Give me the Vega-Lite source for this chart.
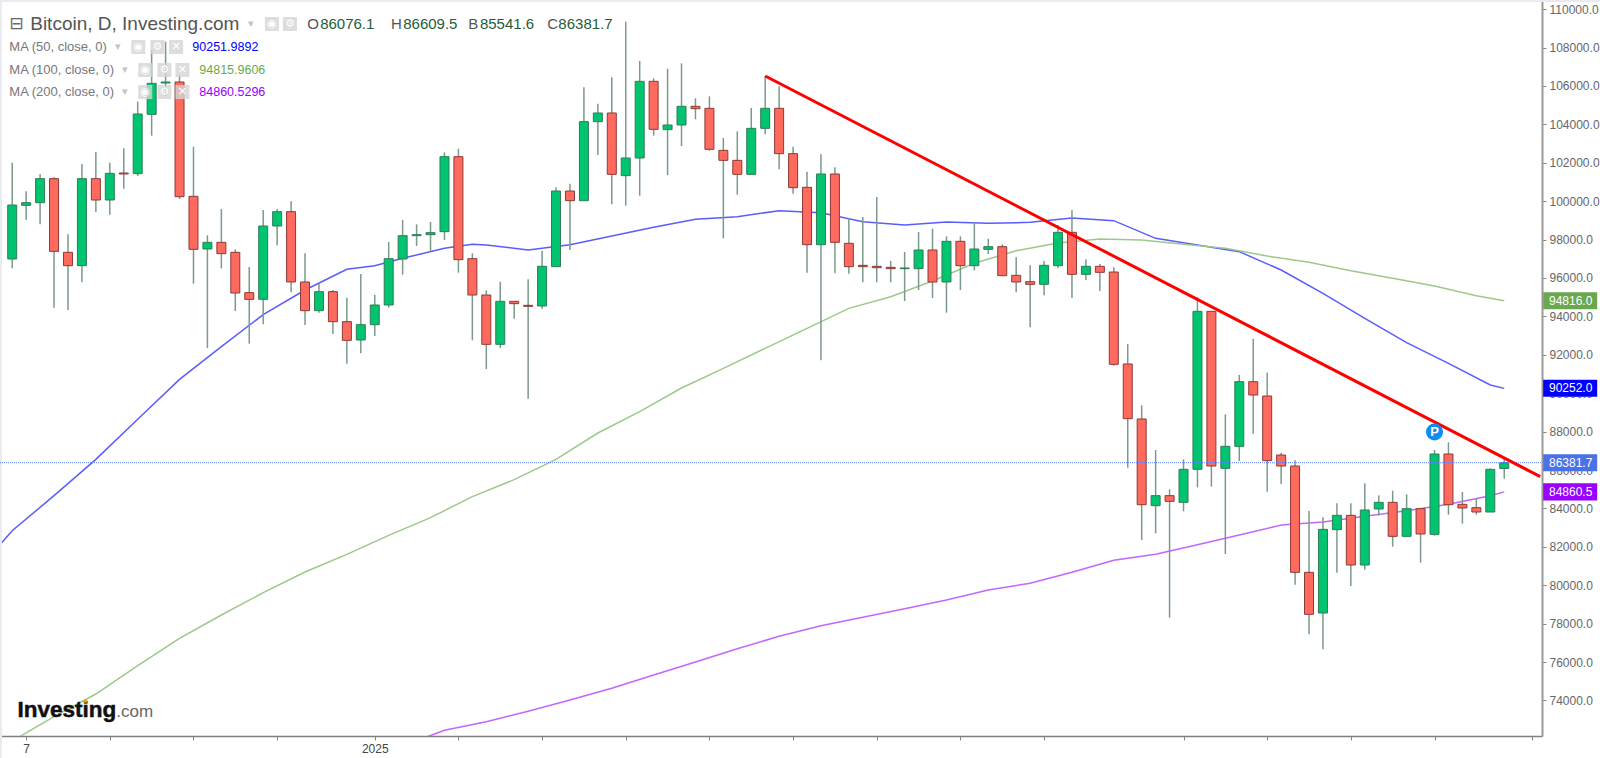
{
  "$schema": "https://vega.github.io/schema/vega-lite/v6.json",
  "width": 1542,
  "height": 736,
  "autosize": "none",
  "padding": {"left": 0, "top": 0, "right": 58, "bottom": 22},
  "background": "white",
  "config": {"view": {"stroke": null}},
  "datasets": {
    "candles": [
      {"date":"2024-12-06","open":96990,"high":102007,"low":96503,"close":99802},
      {"date":"2024-12-07","open":99785,"high":100514,"low":99021,"close":99924},
      {"date":"2024-12-08","open":99924,"high":101417,"low":98795,"close":101174},
      {"date":"2024-12-09","open":101174,"high":101243,"low":94455,"close":97389},
      {"date":"2024-12-10","open":97337,"high":98274,"low":94333,"close":96642},
      {"date":"2024-12-11","open":96642,"high":101937,"low":95774,"close":101174},
      {"date":"2024-12-12","open":101174,"high":102562,"low":99437,"close":100062},
      {"date":"2024-12-13","open":100062,"high":102007,"low":99299,"close":101451},
      {"date":"2024-12-14","open":101469,"high":102753,"low":100653,"close":101417},
      {"date":"2024-12-15","open":101434,"high":105184,"low":101312,"close":104542},
      {"date":"2024-12-16","open":104524,"high":107875,"low":103413,"close":106139},
      {"date":"2024-12-17","open":106156,"high":108309,"low":105479,"close":106208},
      {"date":"2024-12-18","open":106208,"high":106573,"low":100114,"close":100236},
      {"date":"2024-12-19","open":100253,"high":102840,"low":95705,"close":97493},
      {"date":"2024-12-20","open":97510,"high":98222,"low":92354,"close":97858},
      {"date":"2024-12-21","open":97858,"high":99594,"low":96503,"close":97267},
      {"date":"2024-12-22","open":97337,"high":97493,"low":94281,"close":95219},
      {"date":"2024-12-23","open":95236,"high":96573,"low":92580,"close":94889},
      {"date":"2024-12-24","open":94889,"high":99542,"low":93587,"close":98708},
      {"date":"2024-12-25","open":98708,"high":99594,"low":97701,"close":99455},
      {"date":"2024-12-26","open":99455,"high":99993,"low":95253,"close":95792},
      {"date":"2024-12-27","open":95792,"high":97285,"low":93552,"close":94299},
      {"date":"2024-12-28","open":94299,"high":95722,"low":94194,"close":95288},
      {"date":"2024-12-29","open":95288,"high":95375,"low":93083,"close":93726},
      {"date":"2024-12-30","open":93726,"high":94976,"low":91538,"close":92753},
      {"date":"2024-12-31","open":92771,"high":96208,"low":92076,"close":93569},
      {"date":"2025-01-01","open":93569,"high":95132,"low":92979,"close":94594},
      {"date":"2025-01-02","open":94594,"high":97875,"low":94455,"close":97007},
      {"date":"2025-01-03","open":96990,"high":99021,"low":96174,"close":98205},
      {"date":"2025-01-04","open":98205,"high":98795,"low":97667,"close":98257},
      {"date":"2025-01-05","open":98257,"high":98917,"low":97371,"close":98361},
      {"date":"2025-01-06","open":98413,"high":102545,"low":97979,"close":102319},
      {"date":"2025-01-07","open":102319,"high":102736,"low":96278,"close":96955},
      {"date":"2025-01-08","open":97007,"high":97285,"low":92753,"close":95114},
      {"date":"2025-01-09","open":95114,"high":95358,"low":91260,"close":92545},
      {"date":"2025-01-10","open":92545,"high":95809,"low":92354,"close":94785},
      {"date":"2025-01-11","open":94785,"high":94785,"low":93882,"close":94663},
      {"date":"2025-01-12","open":94576,"high":95930,"low":89715,"close":94524},
      {"date":"2025-01-13","open":94542,"high":97424,"low":94403,"close":96608},
      {"date":"2025-01-14","open":96590,"high":100722,"low":96590,"close":100531},
      {"date":"2025-01-15","open":100531,"high":100913,"low":97458,"close":100028},
      {"date":"2025-01-16","open":100028,"high":105930,"low":100028,"close":104142},
      {"date":"2025-01-17","open":104142,"high":105080,"low":102406,"close":104594},
      {"date":"2025-01-18","open":104594,"high":106451,"low":99837,"close":101399},
      {"date":"2025-01-19","open":101330,"high":109351,"low":99767,"close":102250},
      {"date":"2025-01-20","open":102250,"high":107302,"low":100288,"close":106243},
      {"date":"2025-01-21","open":106243,"high":106399,"low":103413,"close":103743},
      {"date":"2025-01-22","open":103726,"high":106903,"low":101364,"close":103969},
      {"date":"2025-01-23","open":103969,"high":107180,"low":102875,"close":104941},
      {"date":"2025-01-24","open":104941,"high":105358,"low":104264,"close":104819},
      {"date":"2025-01-25","open":104837,"high":105462,"low":102632,"close":102701},
      {"date":"2025-01-26","open":102649,"high":103292,"low":98066,"close":102128},
      {"date":"2025-01-27","open":102128,"high":103639,"low":100340,"close":101399},
      {"date":"2025-01-28","open":101399,"high":104854,"low":101399,"close":103795},
      {"date":"2025-01-29","open":103795,"high":106521,"low":103483,"close":104837},
      {"date":"2025-01-30","open":104837,"high":105983,"low":101660,"close":102476},
      {"date":"2025-01-31","open":102476,"high":102840,"low":100392,"close":100705},
      {"date":"2025-02-01","open":100722,"high":101538,"low":96278,"close":97736},
      {"date":"2025-02-02","open":97736,"high":102441,"low":91712,"close":101417},
      {"date":"2025-02-03","open":101417,"high":101764,"low":96243,"close":97858},
      {"date":"2025-02-04","open":97805,"high":99108,"low":96226,"close":96590},
      {"date":"2025-02-05","open":96660,"high":99177,"low":95774,"close":96590},
      {"date":"2025-02-06","open":96608,"high":100219,"low":95774,"close":96538},
      {"date":"2025-02-07","open":96555,"high":96885,"low":95774,"close":96486},
      {"date":"2025-02-08","open":96486,"high":97354,"low":94802,"close":96521},
      {"date":"2025-02-09","open":96486,"high":98396,"low":95375,"close":97458},
      {"date":"2025-02-10","open":97458,"high":98569,"low":94958,"close":95792},
      {"date":"2025-02-11","open":95792,"high":98170,"low":94194,"close":97910},
      {"date":"2025-02-12","open":97910,"high":98170,"low":95375,"close":96642},
      {"date":"2025-02-13","open":96642,"high":98917,"low":96399,"close":97510},
      {"date":"2025-02-14","open":97493,"high":98049,"low":97250,"close":97632},
      {"date":"2025-02-15","open":97632,"high":97753,"low":96121,"close":96121},
      {"date":"2025-02-16","open":96139,"high":97076,"low":95253,"close":95792},
      {"date":"2025-02-17","open":95809,"high":96660,"low":93430,"close":95670},
      {"date":"2025-02-18","open":95670,"high":96885,"low":95097,"close":96660},
      {"date":"2025-02-19","open":96642,"high":98760,"low":96503,"close":98378},
      {"date":"2025-02-20","open":98378,"high":99542,"low":94958,"close":96191},
      {"date":"2025-02-21","open":96191,"high":96972,"low":95896,"close":96608},
      {"date":"2025-02-22","open":96608,"high":96729,"low":95323,"close":96295},
      {"date":"2025-02-23","open":96312,"high":96555,"low":91434,"close":91503},
      {"date":"2025-02-24","open":91521,"high":92562,"low":86121,"close":88674},
      {"date":"2025-02-25","open":88656,"high":89368,"low":82354,"close":84194},
      {"date":"2025-02-26","open":84142,"high":87042,"low":82701,"close":84663},
      {"date":"2025-02-27","open":84663,"high":84993,"low":78309,"close":84368},
      {"date":"2025-02-28","open":84316,"high":86556,"low":83847,"close":86035},
      {"date":"2025-03-01","open":86035,"high":94993,"low":85097,"close":94264},
      {"date":"2025-03-02","open":94264,"high":94264,"low":85132,"close":86208},
      {"date":"2025-03-03","open":86087,"high":88899,"low":81625,"close":87233},
      {"date":"2025-03-04","open":87233,"high":90948,"low":86469,"close":90601},
      {"date":"2025-03-05","open":90601,"high":92840,"low":87892,"close":89906},
      {"date":"2025-03-06","open":89854,"high":91069,"low":84872,"close":86486},
      {"date":"2025-03-07","open":86781,"high":86903,"low":85271,"close":86208},
      {"date":"2025-03-08","open":86208,"high":86503,"low":80028,"close":80670},
      {"date":"2025-03-09","open":80670,"high":83865,"low":77441,"close":78483},
      {"date":"2025-03-10","open":78552,"high":83535,"low":76660,"close":82910},
      {"date":"2025-03-11","open":82892,"high":84264,"low":80653,"close":83639},
      {"date":"2025-03-12","open":83639,"high":84264,"low":79958,"close":81052},
      {"date":"2025-03-13","open":81052,"high":85306,"low":80809,"close":83917},
      {"date":"2025-03-14","open":83969,"high":84681,"low":83621,"close":84316},
      {"date":"2025-03-15","open":84316,"high":84924,"low":82007,"close":82545},
      {"date":"2025-03-16","open":82545,"high":84733,"low":82545,"close":83986},
      {"date":"2025-03-17","open":83986,"high":83986,"low":81174,"close":82667},
      {"date":"2025-03-18","open":82649,"high":87042,"low":82580,"close":86833},
      {"date":"2025-03-19","open":86833,"high":87441,"low":83674,"close":84194},
      {"date":"2025-03-20","open":84212,"high":84854,"low":83205,"close":84021},
      {"date":"2025-03-21","open":84038,"high":84524,"low":83674,"close":83812},
      {"date":"2025-03-22","open":83812,"high":86087,"low":83812,"close":86035},
      {"date":"2025-03-23","open":86076.1,"high":86609.5,"low":85541.6,"close":86381.7}
    ],
    "ma": [
      {"date":"2024-12-05","series":"MA50","price":82007},
      {"date":"2024-12-06","series":"MA50","price":82840},
      {"date":"2024-12-09","series":"MA50","price":84663},
      {"date":"2024-12-12","series":"MA50","price":86556},
      {"date":"2024-12-15","series":"MA50","price":88639},
      {"date":"2024-12-18","series":"MA50","price":90722},
      {"date":"2024-12-21","series":"MA50","price":92424},
      {"date":"2024-12-24","series":"MA50","price":94090},
      {"date":"2024-12-27","series":"MA50","price":95375},
      {"date":"2024-12-30","series":"MA50","price":96451},
      {"date":"2025-01-01","series":"MA50","price":96642},
      {"date":"2025-01-03","series":"MA50","price":97024},
      {"date":"2025-01-06","series":"MA50","price":97545},
      {"date":"2025-01-08","series":"MA50","price":97753},
      {"date":"2025-01-09","series":"MA50","price":97719},
      {"date":"2025-01-12","series":"MA50","price":97458},
      {"date":"2025-01-15","series":"MA50","price":97736},
      {"date":"2025-01-18","series":"MA50","price":98187},
      {"date":"2025-01-21","series":"MA50","price":98639},
      {"date":"2025-01-24","series":"MA50","price":99055},
      {"date":"2025-01-27","series":"MA50","price":99194},
      {"date":"2025-01-30","series":"MA50","price":99507},
      {"date":"2025-02-02","series":"MA50","price":99403},
      {"date":"2025-02-05","series":"MA50","price":98934},
      {"date":"2025-02-08","series":"MA50","price":98760},
      {"date":"2025-02-11","series":"MA50","price":98917},
      {"date":"2025-02-14","series":"MA50","price":98847},
      {"date":"2025-02-17","series":"MA50","price":98899},
      {"date":"2025-02-20","series":"MA50","price":99125},
      {"date":"2025-02-23","series":"MA50","price":98986},
      {"date":"2025-02-26","series":"MA50","price":98066},
      {"date":"2025-03-01","series":"MA50","price":97719},
      {"date":"2025-03-04","series":"MA50","price":97371},
      {"date":"2025-03-07","series":"MA50","price":96417},
      {"date":"2025-03-10","series":"MA50","price":95201},
      {"date":"2025-03-13","series":"MA50","price":93899},
      {"date":"2025-03-16","series":"MA50","price":92632},
      {"date":"2025-03-19","series":"MA50","price":91556},
      {"date":"2025-03-22","series":"MA50","price":90427},
      {"date":"2025-03-23","series":"MA50","price":90252},
      {"date":"2024-12-06","series":"MA100","price":71885},
      {"date":"2024-12-09","series":"MA100","price":73153},
      {"date":"2024-12-12","series":"MA100","price":74333},
      {"date":"2024-12-15","series":"MA100","price":75809},
      {"date":"2024-12-18","series":"MA100","price":77233},
      {"date":"2024-12-21","series":"MA100","price":78448},
      {"date":"2024-12-24","series":"MA100","price":79611},
      {"date":"2024-12-27","series":"MA100","price":80688},
      {"date":"2024-12-30","series":"MA100","price":81608},
      {"date":"2025-01-02","series":"MA100","price":82597},
      {"date":"2025-01-05","series":"MA100","price":83517},
      {"date":"2025-01-08","series":"MA100","price":84611},
      {"date":"2025-01-11","series":"MA100","price":85496},
      {"date":"2025-01-14","series":"MA100","price":86556},
      {"date":"2025-01-17","series":"MA100","price":87927},
      {"date":"2025-01-20","series":"MA100","price":89038},
      {"date":"2025-01-23","series":"MA100","price":90271},
      {"date":"2025-01-26","series":"MA100","price":91295},
      {"date":"2025-01-29","series":"MA100","price":92337},
      {"date":"2025-02-01","series":"MA100","price":93378},
      {"date":"2025-02-04","series":"MA100","price":94420},
      {"date":"2025-02-07","series":"MA100","price":95028},
      {"date":"2025-02-10","series":"MA100","price":95844},
      {"date":"2025-02-13","series":"MA100","price":96764},
      {"date":"2025-02-16","series":"MA100","price":97424},
      {"date":"2025-02-19","series":"MA100","price":97823},
      {"date":"2025-02-22","series":"MA100","price":98031},
      {"date":"2025-02-25","series":"MA100","price":97979},
      {"date":"2025-02-28","series":"MA100","price":97753},
      {"date":"2025-03-03","series":"MA100","price":97545},
      {"date":"2025-03-06","series":"MA100","price":97146},
      {"date":"2025-03-09","series":"MA100","price":96816},
      {"date":"2025-03-12","series":"MA100","price":96382},
      {"date":"2025-03-15","series":"MA100","price":95983},
      {"date":"2025-03-18","series":"MA100","price":95583},
      {"date":"2025-03-21","series":"MA100","price":95080},
      {"date":"2025-03-23","series":"MA100","price":94816},
      {"date":"2025-01-04","series":"MA200","price":71903},
      {"date":"2025-01-06","series":"MA200","price":72441},
      {"date":"2025-01-09","series":"MA200","price":72892},
      {"date":"2025-01-12","series":"MA200","price":73431},
      {"date":"2025-01-15","series":"MA200","price":74021},
      {"date":"2025-01-18","series":"MA200","price":74629},
      {"date":"2025-01-21","series":"MA200","price":75323},
      {"date":"2025-01-24","series":"MA200","price":76000},
      {"date":"2025-01-27","series":"MA200","price":76694},
      {"date":"2025-01-30","series":"MA200","price":77337},
      {"date":"2025-02-02","series":"MA200","price":77892},
      {"date":"2025-02-05","series":"MA200","price":78326},
      {"date":"2025-02-08","series":"MA200","price":78778},
      {"date":"2025-02-11","series":"MA200","price":79229},
      {"date":"2025-02-14","series":"MA200","price":79750},
      {"date":"2025-02-17","series":"MA200","price":80097},
      {"date":"2025-02-20","series":"MA200","price":80670},
      {"date":"2025-02-23","series":"MA200","price":81295},
      {"date":"2025-02-26","series":"MA200","price":81608},
      {"date":"2025-03-01","series":"MA200","price":82111},
      {"date":"2025-03-04","series":"MA200","price":82615},
      {"date":"2025-03-07","series":"MA200","price":83135},
      {"date":"2025-03-10","series":"MA200","price":83292},
      {"date":"2025-03-13","series":"MA200","price":83587},
      {"date":"2025-03-16","series":"MA200","price":83882},
      {"date":"2025-03-19","series":"MA200","price":84211},
      {"date":"2025-03-22","series":"MA200","price":84663},
      {"date":"2025-03-23","series":"MA200","price":84860}
    ],
    "trend": [
      {"date":"2025-01-29","price":106521},
      {"date":"2025-03-25T14:00:00Z","price":85654}
    ],
    "lastPrice": [
      {"date":"2024-12-05T03:00:00Z","price":86381.7},
      {"date":"2025-03-25T17:00:00Z","price":86381.7}
    ],
    "frame": [
      {"step":1,"date":"2024-12-05T03:00:00Z","price":71000},
      {"step":2,"date":"2024-12-05T03:00:00Z","price":110479},
      {"step":3,"date":"2025-03-30T12:00:00Z","price":110479}
    ],
    "tags": [
      {"series":"MA100","label":"94816.0","price":94816,"low":94373,"high":95259,"start":"2025-03-25T19:00:00Z","end":"2025-03-29T16:00:00Z","textAt":"2025-03-26T05:00:00Z"},
      {"series":"MA50","label":"90252.0","price":90252,"low":89809,"high":90695,"start":"2025-03-25T19:00:00Z","end":"2025-03-29T16:00:00Z","textAt":"2025-03-26T05:00:00Z"},
      {"series":"Last","label":"86381.7","price":86381.7,"low":85939,"high":86825,"start":"2025-03-25T19:00:00Z","end":"2025-03-29T16:00:00Z","textAt":"2025-03-26T05:00:00Z"},
      {"series":"MA200","label":"84860.5","price":84860.5,"low":84418,"high":85304,"start":"2025-03-25T19:00:00Z","end":"2025-03-29T16:00:00Z","textAt":"2025-03-26T05:00:00Z"}
    ],
    "notes": [
      {"kind":"glyph","text":"⊟","date":"2024-12-05T19:00:00Z","price":109229},
      {"kind":"title","text":"Bitcoin, D, Investing.com","date":"2024-12-07T07:00:00Z","price":109229},
      {"kind":"caret","text":"▾","date":"2024-12-22T22:00:00Z","price":109229},
      {"kind":"ohlcKey","text":"O","date":"2024-12-27T04:00:00Z","price":109229},
      {"kind":"ohlcVal","text":"86076.1","date":"2024-12-28T02:00:00Z","price":109229},
      {"kind":"ohlcKey","text":"H","date":"2025-01-02T04:00:00Z","price":109229},
      {"kind":"ohlcVal","text":"86609.5","date":"2025-01-03T01:00:00Z","price":109229},
      {"kind":"ohlcKey","text":"B","date":"2025-01-07T17:00:00Z","price":109229},
      {"kind":"ohlcVal","text":"85541.6","date":"2025-01-08T13:00:00Z","price":109229},
      {"kind":"ohlcKey","text":"C","date":"2025-01-13T09:00:00Z","price":109229},
      {"kind":"ohlcVal","text":"86381.7","date":"2025-01-14T04:00:00Z","price":109229},
      {"kind":"ma","text":"MA (50, close, 0)","date":"2024-12-05T19:00:00Z","price":108031},
      {"kind":"ma","text":"MA (100, close, 0)","date":"2024-12-05T19:00:00Z","price":106833},
      {"kind":"ma","text":"MA (200, close, 0)","date":"2024-12-05T19:00:00Z","price":105688},
      {"kind":"caret","text":"▾","date":"2024-12-13T09:00:00Z","price":108031},
      {"kind":"caret","text":"▾","date":"2024-12-13T21:00:00Z","price":106833},
      {"kind":"caret","text":"▾","date":"2024-12-13T21:00:00Z","price":105688},
      {"kind":"maVal","series":"MA50","text":"90251.9892","date":"2024-12-18T22:00:00Z","price":108031},
      {"kind":"maVal","series":"MA100","text":"94815.9606","date":"2024-12-19T10:00:00Z","price":106833},
      {"kind":"maVal","series":"MA200","text":"84860.5296","date":"2024-12-19T10:00:00Z","price":105688},
      {"kind":"logo","text":"Investing","date":"2024-12-06T09:00:00Z","price":73136},
      {"kind":"logoCom","text":".com","date":"2024-12-13T11:00:00Z","price":73136}
    ],
    "icons": [
      {"text":"◉","date":"2024-12-24T15:00:00Z","price":109229},
      {"text":"⚙","date":"2024-12-25T22:00:00Z","price":109229},
      {"text":"◉","date":"2024-12-15T01:00:00Z","price":108031},
      {"text":"⚙","date":"2024-12-16T10:00:00Z","price":108031},
      {"text":"✕","date":"2024-12-17T18:00:00Z","price":108031},
      {"text":"◉","date":"2024-12-15T13:00:00Z","price":106833},
      {"text":"⚙","date":"2024-12-16T22:00:00Z","price":106833},
      {"text":"✕","date":"2024-12-18T05:00:00Z","price":106833},
      {"text":"◉","date":"2024-12-15T13:00:00Z","price":105688},
      {"text":"⚙","date":"2024-12-16T22:00:00Z","price":105688},
      {"text":"✕","date":"2024-12-18T05:00:00Z","price":105688}
    ]
  },
  "encoding": {
    "x": {
      "field": "date",
      "type": "temporal",
      "title": null,
      "scale": {"type": "utc", "nice": false, "padding": 0, "domain": ["2024-12-05T03:00:00Z", "2025-03-25T17:00:00Z"]},
      "axis": {
        "values": [
          {"year":2024,"month":12,"date":7,"utc":true},{"year":2024,"month":12,"date":13,"utc":true},{"year":2024,"month":12,"date":19,"utc":true},{"year":2024,"month":12,"date":25,"utc":true},
          {"year":2025,"month":1,"date":1,"utc":true},{"year":2025,"month":1,"date":7,"utc":true},{"year":2025,"month":1,"date":13,"utc":true},{"year":2025,"month":1,"date":19,"utc":true},{"year":2025,"month":1,"date":25,"utc":true},{"year":2025,"month":1,"date":31,"utc":true},
          {"year":2025,"month":2,"date":6,"utc":true},{"year":2025,"month":2,"date":12,"utc":true},{"year":2025,"month":2,"date":18,"utc":true},{"year":2025,"month":2,"date":28,"utc":true},
          {"year":2025,"month":3,"date":6,"utc":true},{"year":2025,"month":3,"date":12,"utc":true},{"year":2025,"month":3,"date":18,"utc":true},{"year":2025,"month":3,"date":25,"utc":true}
        ],
        "labelExpr": "utcmonth(datum.value)==11&&utcdate(datum.value)==7?'7':(utcmonth(datum.value)==0&&utcdate(datum.value)==1?'2025':'')",
        "labelFont": "Liberation Sans",
        "labelFontSize": 12,
        "labelColor": "#444444",
        "labelPadding": 3,
        "labelFlush": false,
        "labelOverlap": false,
        "grid": false,
        "tickSize": 4,
        "tickColor": "#888888",
        "tickWidth": 1,
        "domainColor": "#808080",
        "domainWidth": 1.5
      }
    },
    "y": {
      "field": "price",
      "type": "quantitative",
      "title": null,
      "scale": {"domain": [72146, 110479], "nice": false, "zero": false, "padding": 0},
      "axis": {
        "orient": "right",
        "values": [74000,76000,78000,80000,82000,84000,86000,88000,90000,92000,94000,96000,98000,100000,102000,104000,106000,108000,110000],
        "format": ".1f",
        "labelFont": "Liberation Sans",
        "labelFontSize": 12,
        "labelColor": "#666666",
        "labelPadding": 3,
        "labelOverlap": false,
        "labelFlush": false,
        "grid": false,
        "tickSize": 4,
        "tickColor": "#888888",
        "tickWidth": 1,
        "domainColor": "#999999",
        "domainWidth": 2
      }
    }
  },
  "layer": [
    {
      "data": {"name": "ma"},
      "mark": {"type": "line", "strokeWidth": 1.5, "clip": true},
      "encoding": {
        "color": {
          "field": "series",
          "type": "nominal",
          "legend": null,
          "scale": {"domain": ["MA50", "MA100", "MA200"], "range": ["#5a5cff", "#9cc98a", "#c266ff"]}
        }
      }
    },
    {
      "data": {"name": "frame"},
      "mark": {"type": "line", "color": "#e9ebf0", "strokeWidth": 4},
      "encoding": {"order": {"field": "step", "type": "quantitative"}}
    },
    {
      "data": {"name": "candles"},
      "mark": {"type": "rule", "color": "#7b9a8a", "strokeWidth": 1.5},
      "encoding": {
        "y": {"field": "low", "type": "quantitative"},
        "y2": {"field": "high"}
      }
    },
    {
      "data": {"name": "candles"},
      "mark": {"type": "bar", "orient": "vertical", "size": 9, "strokeWidth": 1},
      "encoding": {
        "y": {"field": "open", "type": "quantitative"},
        "y2": {"field": "close"},
        "fill": {"condition": {"test": "datum.close >= datum.open", "value": "#00c46f"}, "value": "#ff6a5f"},
        "stroke": {"condition": {"test": "datum.close >= datum.open", "value": "#2f7d57"}, "value": "#8c3a36"}
      }
    },
    {
      "data": {"name": "lastPrice"},
      "mark": {"type": "line", "color": "#5f80f5", "strokeWidth": 1, "strokeDash": [1, 1]}
    },
    {
      "data": {"name": "trend"},
      "mark": {"type": "line", "color": "#ff0000", "strokeWidth": 3}
    },
    {
      "data": {"values": [{"date": "2025-03-18", "price": 87979}]},
      "mark": {"type": "point", "filled": true, "shape": "circle", "size": 289, "color": "#0d8df0", "opacity": 1}
    },
    {
      "data": {"values": [{"date": "2025-03-18", "price": 87979, "text": "P"}]},
      "mark": {"type": "text", "color": "white", "font": "Liberation Sans", "fontWeight": "bold", "fontSize": 13, "baseline": "middle"},
      "encoding": {"text": {"field": "text"}}
    },
    {
      "data": {"name": "icons"},
      "mark": {"type": "point", "filled": true, "shape": "square", "size": 196, "color": "#d4d4d4", "opacity": 0.8}
    },
    {
      "data": {"name": "icons"},
      "mark": {"type": "text", "color": "white", "font": "DejaVu Sans", "fontSize": 11, "baseline": "middle"},
      "encoding": {"text": {"field": "text"}}
    },
    {
      "data": {"name": "notes"},
      "transform": [{"filter": "datum.kind == 'title'"}],
      "mark": {"type": "text", "align": "left", "baseline": "middle", "font": "Liberation Sans", "fontSize": 19, "color": "#555555"},
      "encoding": {"text": {"field": "text"}}
    },
    {
      "data": {"name": "notes"},
      "transform": [{"filter": "datum.kind == 'glyph'"}],
      "mark": {"type": "text", "align": "left", "baseline": "middle", "font": "DejaVu Sans", "fontSize": 17, "color": "#666666"},
      "encoding": {"text": {"field": "text"}}
    },
    {
      "data": {"name": "notes"},
      "transform": [{"filter": "datum.kind == 'caret'"}],
      "mark": {"type": "text", "align": "left", "baseline": "middle", "font": "DejaVu Sans", "fontSize": 11, "color": "#c4c4c4"},
      "encoding": {"text": {"field": "text"}}
    },
    {
      "data": {"name": "notes"},
      "transform": [{"filter": "datum.kind == 'ohlcKey'"}],
      "mark": {"type": "text", "align": "left", "baseline": "middle", "font": "Liberation Sans", "fontSize": 15, "color": "#555555"},
      "encoding": {"text": {"field": "text"}}
    },
    {
      "data": {"name": "notes"},
      "transform": [{"filter": "datum.kind == 'ohlcVal'"}],
      "mark": {"type": "text", "align": "left", "baseline": "middle", "font": "Liberation Sans", "fontSize": 15, "color": "#1f5c3a"},
      "encoding": {"text": {"field": "text"}}
    },
    {
      "data": {"name": "notes"},
      "transform": [{"filter": "datum.kind == 'ma'"}],
      "mark": {"type": "text", "align": "left", "baseline": "middle", "font": "Liberation Sans", "fontSize": 13, "color": "#777777"},
      "encoding": {"text": {"field": "text"}}
    },
    {
      "data": {"name": "notes"},
      "transform": [{"filter": "datum.kind == 'maVal'"}],
      "mark": {"type": "text", "align": "left", "baseline": "middle", "font": "Liberation Sans", "fontSize": 12.5},
      "encoding": {
        "text": {"field": "text"},
        "color": {
          "field": "series",
          "type": "nominal",
          "legend": null,
          "scale": {"domain": ["MA50", "MA100", "MA200"], "range": ["#0000ff", "#6aa84f", "#9900ff"]}
        }
      }
    },
    {
      "data": {"name": "notes"},
      "transform": [{"filter": "datum.kind == 'logo'"}],
      "mark": {"type": "text", "align": "left", "baseline": "alphabetic", "font": "Liberation Sans", "fontWeight": "bold", "fontSize": 22.5, "color": "#111111", "stroke": "#111111", "strokeWidth": 0.5},
      "encoding": {"text": {"field": "text"}}
    },
    {
      "data": {"name": "notes"},
      "transform": [{"filter": "datum.kind == 'logoCom'"}],
      "mark": {"type": "text", "align": "left", "baseline": "alphabetic", "font": "Liberation Sans", "fontSize": 17, "color": "#666666"},
      "encoding": {"text": {"field": "text"}}
    },
    {
      "data": {"values": [{"date": "2024-12-11T06:00:00Z", "price": 73969}]},
      "mark": {"type": "point", "filled": true, "shape": "circle", "size": 14, "color": "#f5a000", "opacity": 1}
    },
    {
      "data": {"name": "tags"},
      "mark": {"type": "rect"},
      "encoding": {
        "x": {"field": "start", "type": "temporal"},
        "x2": {"field": "end"},
        "y": {"field": "low", "type": "quantitative"},
        "y2": {"field": "high"},
        "color": {
          "field": "series",
          "type": "nominal",
          "legend": null,
          "scale": {"domain": ["MA100", "MA50", "Last", "MA200"], "range": ["#6aa84f", "#0000ff", "#4a72e8", "#9900ff"]}
        }
      }
    },
    {
      "data": {"name": "tags"},
      "mark": {"type": "text", "align": "left", "baseline": "middle", "font": "Liberation Sans", "fontSize": 12, "color": "white"},
      "encoding": {
        "x": {"field": "textAt", "type": "temporal"},
        "text": {"field": "label"}
      }
    }
  ],
  "resolve": {"scale": {"color": "independent"}}
}
